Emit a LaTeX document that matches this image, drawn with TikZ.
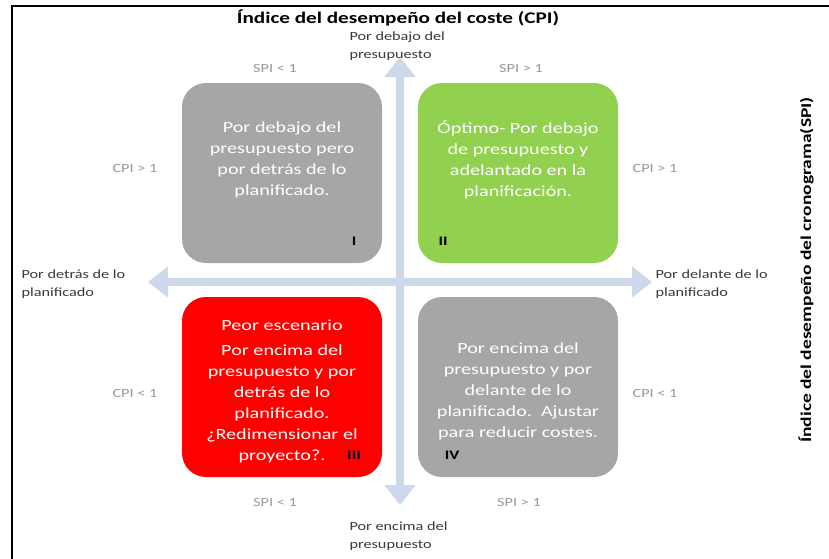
\documentclass[tikz,border=0pt]{standalone}
\usepackage{fontspec}
\setmainfont{Carlito}[FakeStretch=1.3]
\usetikzlibrary{arrows.meta}
\definecolor{boxgray}{HTML}{A6A6A6}
\definecolor{boxgreen}{HTML}{92D050}
\definecolor{boxred}{HTML}{FF0000}
\definecolor{axisblue}{HTML}{CDD8EA}
\definecolor{lblgray}{HTML}{9A9A9A}
\definecolor{axlbl}{HTML}{3A3A3A}
\begin{document}
\begin{tikzpicture}[x=1pt,y=-1pt,
  qtext/.style={text=white, align=center, font=\fontsize{15.5}{21}\selectfont},
  roman/.style={text=black, font=\bfseries\fontsize{13}{13}\selectfont},
  idx/.style={text=lblgray, font=\fontsize{12.5}{12.5}\selectfont},
  axlabel/.style={text=axlbl, align=left, font=\fontsize{12.5}{18}\selectfont},
  axarrow/.style={draw=axisblue, line width=8pt, -{Triangle[width=30pt,length=20pt]}}
]
\useasboundingbox (0,0) rectangle (829,558);
\fill[white] (0,0) rectangle (829,558);
% frame (top and left only visible)
\draw[line width=2.5pt] (12,600) -- (12,6) -- (900,6);

% quadrant boxes
\fill[boxgray,rounded corners=24pt] (182,83) rectangle (382,263);
\fill[boxgreen,rounded corners=24pt] (418,83) rectangle (618,263);
\fill[boxred,rounded corners=24pt] (182,297) rectangle (382,477);
\fill[boxgray,rounded corners=24pt] (418,297) rectangle (618,477);

% axes
\coordinate (hc) at (400,282);
\coordinate (hl) at (148,282);
\coordinate (hr) at (652,282);
\coordinate (vt) at (400,57);
\coordinate (vb) at (400,505);
\draw[axarrow] (hc) -- (hl);
\draw[axarrow] (hc) -- (hr);
\draw[axarrow] (hc) -- (vt);
\draw[axarrow] (hc) -- (vb);

% box texts
\node[qtext] (t1) at (282,160) {Por debajo del\\presupuesto pero\\por detrás de lo\\planificado.};
\node[qtext] (t2) at (518,160) {Óptimo- Por debajo\\de presupuesto y\\adelantado en la\\planificación.};
\node[qtext] (t3a) at (282,325) {Peor escenario};
\node[qtext] (t3) at (282,404) {Por encima del\\presupuesto y por\\detrás de lo\\planificado.\\¿Redimensionar el\\proyecto?.};
\node[qtext] (t4) at (518,391) {Por encima del\\presupuesto y por\\delante de lo\\planificado.\ \ Ajustar\\para reducir costes.};

% roman numerals
\node[roman] (r1) at (354,241) {I};
\node[roman] (r2) at (443,241) {II};
\node[roman] (r3) at (354,455) {III};
\node[roman] (r4) at (452,455) {IV};

% SPI / CPI labels
\node[idx] (s1) at (275,68) {SPI < 1};
\node[idx] (s2) at (521,68) {SPI > 1};
\node[idx] (s3) at (275,502) {SPI < 1};
\node[idx] (s4) at (519,502) {SPI > 1};
\node[idx] (c1) at (135,168) {CPI > 1};
\node[idx] (c2) at (655,168) {CPI > 1};
\node[idx] (c3) at (135,393) {CPI < 1};
\node[idx] (c4) at (655,393) {CPI < 1};

% axis labels
\node[axlabel, anchor=west] (al) at (18,284) {Por detrás de lo\\planificado};
\node[axlabel, anchor=west] (ar) at (652,284) {Por delante de lo\\planificado};
\node[axlabel, anchor=west] (at) at (346,46) {Por debajo del\\presupuesto};
\node[axlabel, anchor=west] (ab) at (346,536) {Por encima del\\presupuesto};

% titles
\node[font=\bfseries\fontsize{16.3}{16.3}\selectfont] (title) at (398,18) {Índice del desempeño del coste (CPI)};
\node[font=\bfseries\fontsize{15}{15}\selectfont, rotate=90] (stitle) at (806,270) {Índice del desempeño del cronograma(SPI)};
\end{tikzpicture}
\end{document}
